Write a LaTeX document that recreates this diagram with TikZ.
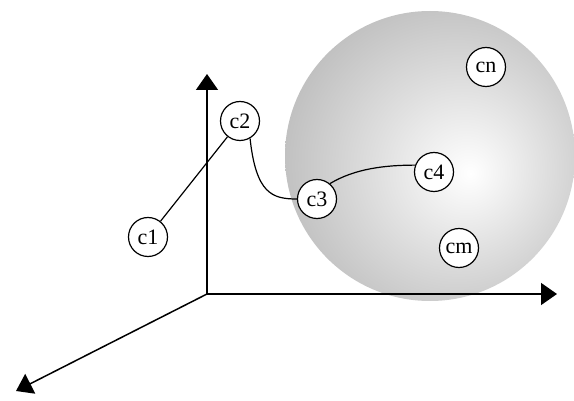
\documentclass[tikz,border=0pt]{standalone}
\usepackage{fontspec}
\setmainfont{Liberation Serif}
\usetikzlibrary{arrows.meta}

% soft grey ball, brightest a little right of and below its centre
\pgfdeclareradialshading{glow}{\pgfpoint{7bp}{-3bp}}{color(0bp)=(white); color(14bp)=(black!12); color(32bp)=(black!27); color(48bp)=(black!35); color(60bp)=(black!37)}

\begin{document}
\begin{tikzpicture}[
  x=1pt, y=-1pt,
  state/.style={circle,draw,fill=white,line width=1.2pt,minimum size=39pt,inner sep=0pt,font=\fontsize{22}{22}\selectfont},
  axis/.style={-{Triangle[length=16pt,width=22pt]},line width=1.5pt},
  link/.style={line width=1.2pt}
]
\useasboundingbox (0,0) rectangle (574,401);
\shade[shading=glow] (430,156) circle[radius=145];

\coordinate (o) at (207,294);
\coordinate (yax) at (207,74);
\coordinate (xax) at (557,294);
\coordinate (zax) at (16,391);
\draw[axis] (o) -- (yax);
\draw[axis] (o) -- (xax);
\draw[axis] (o) -- (zax);

\node[state] (c1) at (148,237) {c1};
\node[state] (c2) at (240,121) {c2};
\node[state] (c3) at (317,199) {c3};
\node[state] (c4) at (434,172) {c4};
\node[state] (cn) at (486,67) {cn};
\node[state] (cm) at (459,248) {cm};

\draw[link] (c1) -- (c2);
\draw[link] (c2.-60) .. controls +(6,55) and +(-25,0) .. (c3.west);
\draw[link] (c3.50) .. controls +(25,-15) and +(-30,0) .. (c4.160);
\end{tikzpicture}
\end{document}
